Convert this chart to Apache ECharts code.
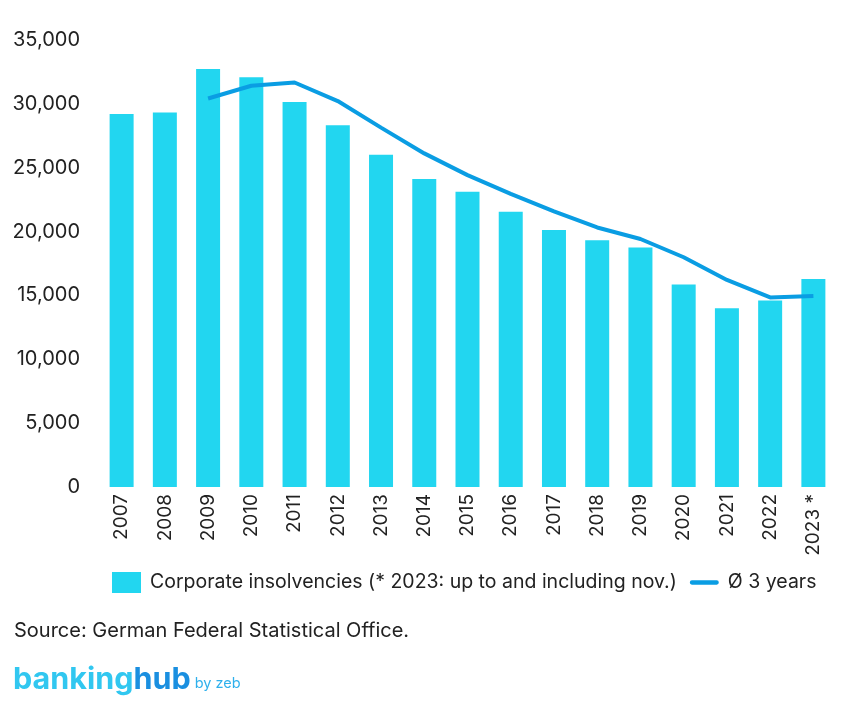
<!DOCTYPE html>
<html><head><meta charset="utf-8">
<script src="https://cdn.jsdelivr.net/npm/echarts@6/dist/echarts.min.js"></script>
<style>html,body{margin:0;padding:0;background:#fff}#c{width:862px;height:702px}</style>
</head><body><div id="c"></div>
<script>
const years = ['2007','2008','2009','2010','2011','2012','2013','2014','2015','2016','2017','2018','2019','2020','2021','2022','2023 *'];
const insolvencies = [29200, 29330, 32720, 32080, 30150, 28330, 26020, 24110, 23110, 21550, 20120, 19320, 18760, 15850, 14000, 14610, 16280];
const avg3 = [null, null, 30420, 31420, 31670, 30220, 28140, 26120, 24420, 22950, 21580, 20320, 19420, 17990, 16210, 14840, 14960];
const yTicks = [0, 5000, 10000, 15000, 20000, 25000, 30000, 35000];

const FONT = 'Inter';
const TXT = '#222222';
const chart = echarts.init(document.getElementById('c'));
chart.setOption({
  animation: false,
  textStyle: {fontFamily: FONT},
  grid: {left: 100, right: 27, top: 40, bottom: 215, containLabel: false},
  xAxis: {
    type: 'category', data: years,
    axisLine: {show: false}, axisTick: {show: false},
    axisLabel: {rotate: 90, margin: 7, color: TXT, fontSize: 19, fontFamily: FONT, interval: 0}
  },
  yAxis: {
    type: 'value', min: yTicks[0], max: yTicks[yTicks.length-1], interval: 5000,
    splitLine: {show: false}, axisLine: {show: false}, axisTick: {show: false},
    axisLabel: {margin: 20, color: TXT, fontSize: 20, fontFamily: FONT,
      formatter: v => v.toLocaleString('en-US')}
  },
  legend: {
    left: 107, top: 567, itemGap: 13, itemWidth: 29, itemHeight: 21,
    textStyle: {fontSize: 19.5, color: TXT, fontFamily: FONT, padding: [0, 0, 0, 4]},
    data: [
      {name: 'Corporate insolvencies (* 2023: up to and including nov.)', icon: 'rect'},
      {name: 'Ø 3 years', icon: 'path://M2,0 H25 A2,2 0 0 1 25,4 H2 A2,2 0 0 1 2,0 Z', itemStyle: {color: '#0a9de3'}}
    ]
  },
  series: [
    {name: 'Corporate insolvencies (* 2023: up to and including nov.)', type: 'bar', data: insolvencies,
      barWidth: 24, itemStyle: {color: '#22d6f0'}},
    {name: 'Ø 3 years', type: 'line', data: avg3, showSymbol: false, symbol: 'none',
      lineStyle: {color: '#0a9de3', width: 4}, itemStyle: {color: '#0a9de3'}, connectNulls: false}
  ],
  graphic: [
    {type: 'text', left: 14, top: 621, style: {text: 'Source: German Federal Statistical Office.', fontSize: 20, fontFamily: FONT, fill: TXT}},
    {type: 'text', left: 13, top: 664, style: {
      rich: {a: {fontSize: 30.5, fontWeight: 'bold', fill: '#31c7f0', fontFamily: FONT},
             b: {fontSize: 30.5, fontWeight: 'bold', fill: '#1a8fe0', fontFamily: FONT},
             c: {fontSize: 14.5, fill: '#2fb0ec', fontFamily: FONT, padding: [9, 0, 0, 4]}},
      text: '{a|banking}{b|hub}{c|by zeb}'}}
  ]
});
</script></body></html>
